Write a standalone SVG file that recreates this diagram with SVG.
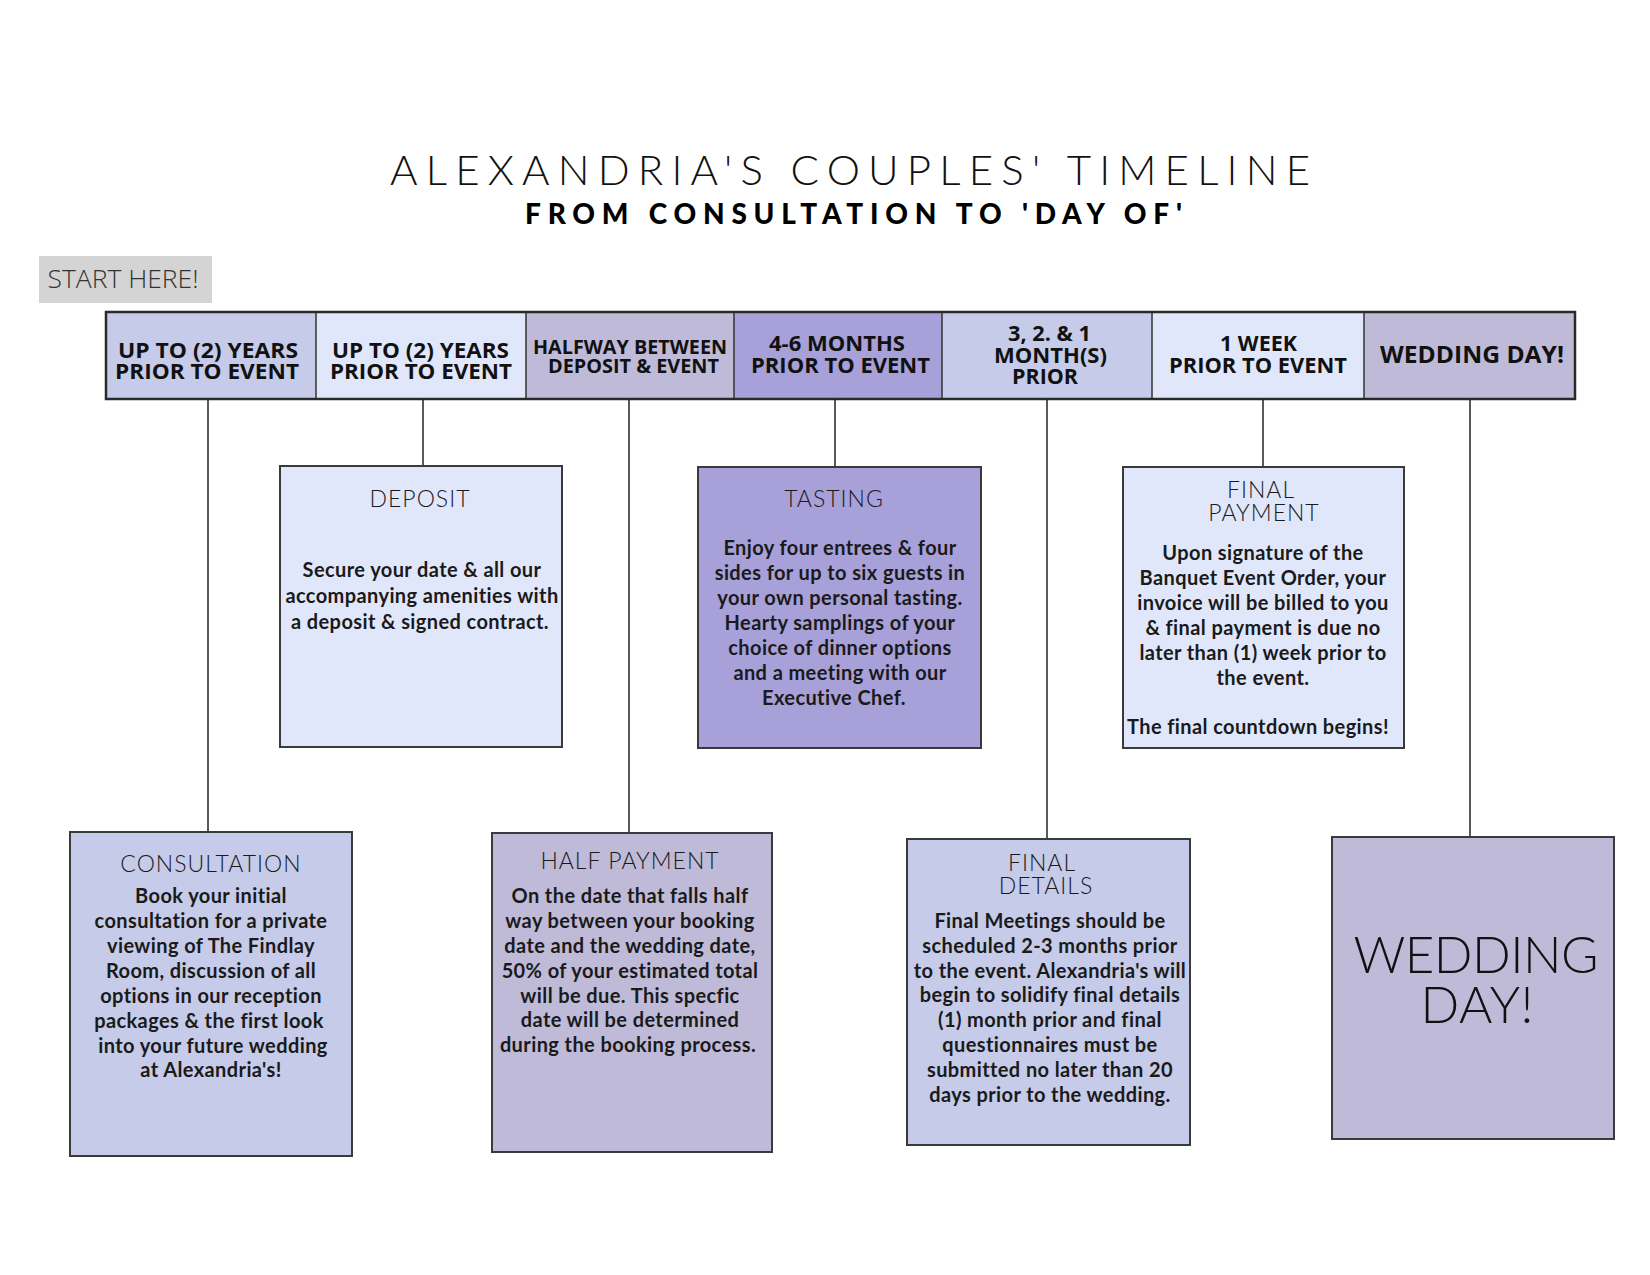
<svg xmlns="http://www.w3.org/2000/svg" width="1650" height="1275" viewBox="0 0 1650 1275">
<style>
.hdr{font-family:"Open Sans","Liberation Sans",sans-serif;font-weight:700;fill:#111;text-anchor:middle}
.box{stroke:#3a3a3a;stroke-width:2}
.ttl{font-family:Lato,"Liberation Sans",sans-serif;font-weight:300;font-size:23px;fill:#1a1a1a;text-anchor:middle;letter-spacing:1px}
.body{font-family:Lato,"Liberation Sans",sans-serif;font-weight:700;font-size:20px;fill:#1a1a1a;text-anchor:middle;letter-spacing:0.4px}
.conn line{stroke:#222;stroke-width:1.5}
.c1{fill:#c5cbe8}.c2{fill:#e1e7fa}.c3{fill:#bfbad8}.c4{fill:#a8a0d8}
</style>
<rect width="1650" height="1275" fill="#fff"/>
<g id="title">
<text x="390" y="185" textLength="920" lengthAdjust="spacing" font-family="Lato,'Liberation Sans',sans-serif" font-weight="300" font-size="42" fill="#111">ALEXANDRIA'S COUPLES' TIMELINE</text>
<text x="525" y="224" textLength="657" lengthAdjust="spacing" font-family="Lato,'Liberation Sans',sans-serif" font-weight="900" font-size="28" fill="#000">FROM CONSULTATION TO 'DAY OF'</text>
</g>
<g id="start-here">
<rect x="39" y="256" width="173" height="47" fill="#d4d4d4"/>
<text x="123" y="288" text-anchor="middle" textLength="151" lengthAdjust="spacingAndGlyphs" font-family="'Open Sans','Liberation Sans',sans-serif" font-weight="300" font-size="25" fill="#333">START HERE!</text>
</g>
<g id="header">
<rect x="106" y="312" width="210" height="87" class="c1"/>
<rect x="316" y="312" width="210" height="87" class="c2"/>
<rect x="526" y="312" width="208" height="87" class="c3"/>
<rect x="734" y="312" width="208" height="87" class="c4"/>
<rect x="942" y="312" width="210" height="87" class="c1"/>
<rect x="1152" y="312" width="212" height="87" class="c2"/>
<rect x="1364" y="312" width="211" height="87" class="c3"/>
<g stroke="#333" stroke-width="1.5">
<line x1="316" y1="312" x2="316" y2="399"/>
<line x1="526" y1="312" x2="526" y2="399"/>
<line x1="734" y1="312" x2="734" y2="399"/>
<line x1="942" y1="312" x2="942" y2="399"/>
<line x1="1152" y1="312" x2="1152" y2="399"/>
<line x1="1364" y1="312" x2="1364" y2="399"/>
</g>
<rect x="106" y="312" width="1469" height="87" fill="none" stroke="#2a2a2a" stroke-width="2.5"/>
<text class="hdr" font-size="22"><tspan x="208" y="358" textLength="180" lengthAdjust="spacingAndGlyphs">UP TO (2) YEARS</tspan><tspan x="207" y="379" textLength="184" lengthAdjust="spacingAndGlyphs">PRIOR TO EVENT</tspan></text>
<text class="hdr" font-size="22"><tspan x="420.5" y="358" textLength="177" lengthAdjust="spacingAndGlyphs">UP TO (2) YEARS</tspan><tspan x="421" y="379" textLength="182" lengthAdjust="spacingAndGlyphs">PRIOR TO EVENT</tspan></text>
<text class="hdr" font-size="20"><tspan x="630" y="354" textLength="194" lengthAdjust="spacingAndGlyphs">HALFWAY BETWEEN</tspan><tspan x="633.5" y="373" textLength="171" lengthAdjust="spacingAndGlyphs">DEPOSIT &amp; EVENT</tspan></text>
<text class="hdr" font-size="21"><tspan x="837" y="351" textLength="136" lengthAdjust="spacingAndGlyphs">4-6 MONTHS</tspan><tspan x="840.5" y="373" textLength="179" lengthAdjust="spacingAndGlyphs">PRIOR TO EVENT</tspan></text>
<text class="hdr" font-size="21"><tspan x="1049.5" y="341" textLength="83" lengthAdjust="spacingAndGlyphs">3, 2. &amp; 1</tspan><tspan x="1050.5" y="363" textLength="113" lengthAdjust="spacingAndGlyphs">MONTH(S)</tspan><tspan x="1045" y="384" textLength="66" lengthAdjust="spacingAndGlyphs">PRIOR</tspan></text>
<text class="hdr" font-size="21"><tspan x="1258.5" y="351" textLength="77" lengthAdjust="spacingAndGlyphs">1 WEEK</tspan><tspan x="1258" y="373" textLength="178" lengthAdjust="spacingAndGlyphs">PRIOR TO EVENT</tspan></text>
<text class="hdr" font-size="23"><tspan x="1472" y="363" textLength="184" lengthAdjust="spacingAndGlyphs">WEDDING DAY!</tspan></text>
</g>
<g id="connectors" class="conn">
<line x1="208" y1="399" x2="208" y2="832"/>
<line x1="423" y1="399" x2="423" y2="466"/>
<line x1="629" y1="399" x2="629" y2="833"/>
<line x1="835" y1="399" x2="835" y2="467"/>
<line x1="1047" y1="399" x2="1047" y2="839"/>
<line x1="1263" y1="399" x2="1263" y2="467"/>
<line x1="1470" y1="399" x2="1470" y2="837"/>
</g>
<g id="consultation">
<rect x="70" y="832" width="282" height="324" class="box c1"/>
<text class="ttl" x="211" y="872">CONSULTATION</text>
<text class="body"><tspan x="211" y="903">Book your initial</tspan><tspan x="211" y="928">consultation for a private</tspan><tspan x="211" y="953">viewing of The Findlay</tspan><tspan x="211" y="978">Room, discussion of all</tspan><tspan x="211" y="1003">options in our reception</tspan><tspan x="209" y="1028">packages &amp; the first look</tspan><tspan x="213" y="1053">into your future wedding</tspan><tspan x="211" y="1077">at Alexandria's!</tspan></text>
</g>
<g id="deposit">
<rect x="280" y="466" width="282" height="281" class="box c2"/>
<text class="ttl" x="420" y="507">DEPOSIT</text>
<text class="body"><tspan x="422" y="577">Secure your date &amp; all our</tspan><tspan x="422" y="603">accompanying amenities with</tspan><tspan x="420" y="629">a deposit &amp; signed contract.</tspan></text>
</g>
<g id="half-payment">
<rect x="492" y="833" width="280" height="319" class="box c3"/>
<text class="ttl" x="630" y="869">HALF PAYMENT</text>
<text class="body"><tspan x="630" y="903">On the date that falls half</tspan><tspan x="630" y="928">way between your booking</tspan><tspan x="630" y="953">date and the wedding date,</tspan><tspan x="630" y="978">50% of your estimated total</tspan><tspan x="630" y="1003">will be due. This specfic</tspan><tspan x="630" y="1027">date will be determined</tspan><tspan x="628" y="1052">during the booking process.</tspan></text>
</g>
<g id="tasting">
<rect x="698" y="467" width="283" height="281" class="box c4"/>
<text class="ttl" x="834" y="507">TASTING</text>
<text class="body"><tspan x="840" y="555">Enjoy four entrees &amp; four</tspan><tspan x="840" y="580">sides for up to six guests in</tspan><tspan x="840" y="605">your own personal tasting.</tspan><tspan x="840" y="630">Hearty samplings of your</tspan><tspan x="840" y="655">choice of dinner options</tspan><tspan x="840" y="680">and a meeting with our</tspan><tspan x="834" y="705">Executive Chef.</tspan></text>
</g>
<g id="final-details">
<rect x="907" y="839" width="283" height="306" class="box c1"/>
<text class="ttl"><tspan x="1042" y="871">FINAL</tspan><tspan x="1046" y="894">DETAILS</tspan></text>
<text class="body"><tspan x="1050" y="928">Final Meetings should be</tspan><tspan x="1050" y="953">scheduled 2-3 months prior</tspan><tspan x="1050" y="978">to the event. Alexandria's will</tspan><tspan x="1050" y="1002">begin to solidify final details</tspan><tspan x="1050" y="1027">(1) month prior and final</tspan><tspan x="1050" y="1052">questionnaires must be</tspan><tspan x="1050" y="1077">submitted no later than 20</tspan><tspan x="1050" y="1102">days prior to the wedding.</tspan></text>
</g>
<g id="final-payment">
<rect x="1123" y="467" width="281" height="281" class="box c2"/>
<text class="ttl"><tspan x="1261" y="498">FINAL</tspan><tspan x="1264" y="521">PAYMENT</tspan></text>
<text class="body"><tspan x="1263" y="560">Upon signature of the</tspan><tspan x="1263" y="585">Banquet Event Order, your</tspan><tspan x="1263" y="610">invoice will be billed to you</tspan><tspan x="1263" y="635">&amp; final payment is due no</tspan><tspan x="1263" y="660">later than (1) week prior to</tspan><tspan x="1263" y="685">the event.</tspan><tspan x="1258" y="734">The final countdown begins!</tspan></text>
</g>
<g id="wedding-day">
<rect x="1332" y="837" width="282" height="302" class="box c3"/>
<text x="1476" y="973" text-anchor="middle" textLength="245" lengthAdjust="spacing" font-family="Lato,'Liberation Sans',sans-serif" font-weight="300" font-size="51" fill="#111">WEDDING</text>
<text x="1477" y="1023" text-anchor="middle" textLength="113" lengthAdjust="spacing" font-family="Lato,'Liberation Sans',sans-serif" font-weight="300" font-size="51" fill="#111">DAY!</text>
</g>
</svg>
